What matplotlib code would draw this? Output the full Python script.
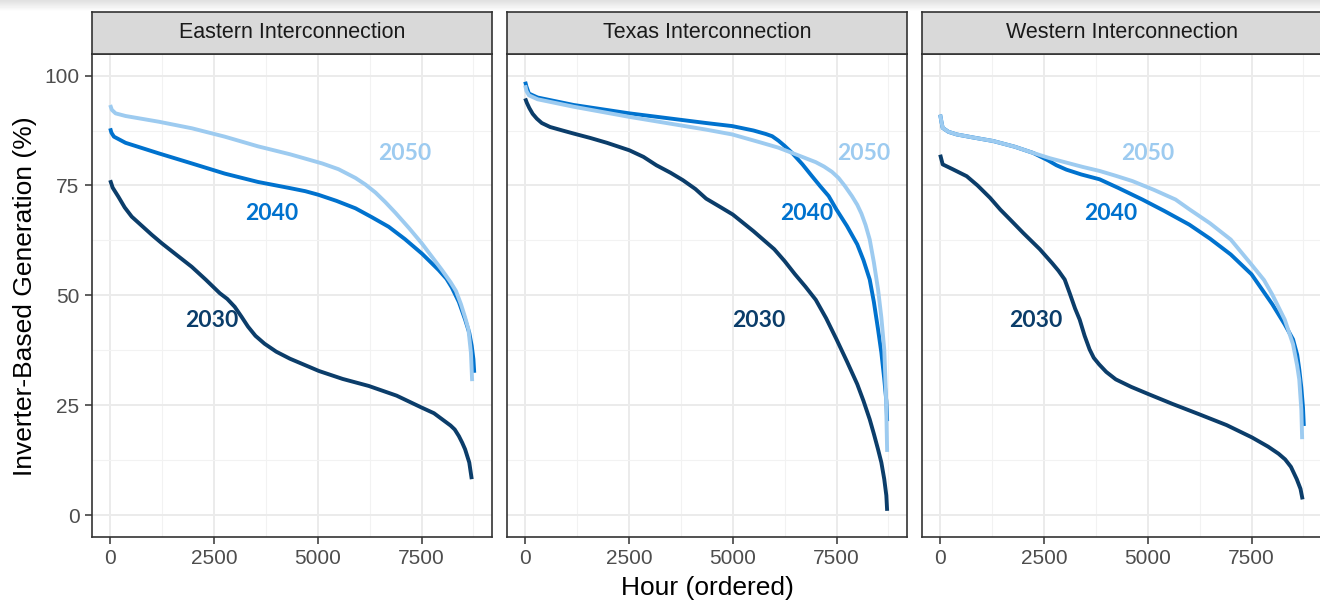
import numpy as np
import matplotlib.pyplot as plt

plt.rcParams['font.family'] = ['Liberation Sans', 'DejaVu Sans']

regions = ['Eastern Interconnection', 'Texas Interconnection', 'Western Interconnection']
years = ['2030', '2040', '2050']
colors = {'2030': '#0B3D6A', '2040': '#0072CE', '2050': '#9DCBF0'}

# ordered hourly share of inverter-based generation (%)
east_2030_h = [0, 60, 200, 350, 520, 1000, 1250, 1600, 1965, 2300, 2640, 2820, 3000, 3160, 3320, 3500, 3720, 4000, 4330, 5030, 5600, 6230, 6900, 7500, 7800, 8000, 8200, 8300, 8400, 8480, 8550, 8600, 8650, 8710]
east_2030_v = [76.2, 74.5, 72.4, 70.0, 67.9, 63.8, 61.8, 59.2, 56.5, 53.6, 50.5, 49.2, 47.4, 45.2, 42.9, 40.8, 39.0, 37.2, 35.6, 32.8, 31.0, 29.4, 27.2, 24.5, 23.2, 21.8, 20.4, 19.5, 18.0, 16.5, 15.0, 13.5, 12.0, 8.2]
east_2040_h = [0, 30, 90, 370, 1170, 1970, 2760, 3560, 4330, 4700, 5010, 5450, 5910, 6300, 6710, 7100, 7510, 7910, 8100, 8230, 8400, 8550, 8650, 8710, 8750, 8770]
east_2040_v = [88.0, 87.0, 86.1, 84.7, 82.3, 80.0, 77.7, 75.8, 74.4, 73.7, 72.9, 71.5, 69.8, 67.8, 65.6, 62.8, 59.5, 55.8, 53.8, 51.8, 48.5, 44.5, 41.5, 38.5, 35.5, 32.4]
east_2050_h = [0, 40, 130, 370, 1170, 1970, 2760, 3560, 4330, 5110, 5500, 5910, 6150, 6390, 6630, 6870, 7200, 7510, 7750, 7990, 8200, 8330, 8450, 8550, 8630, 8690, 8720]
east_2050_v = [93.3, 92.2, 91.4, 90.8, 89.5, 88.0, 86.1, 83.9, 82.1, 80.0, 78.7, 76.7, 75.2, 73.4, 71.2, 68.8, 65.3, 61.8, 58.8, 55.8, 53.0, 51.0, 48.0, 45.0, 42.3, 37.0, 30.5]

texas_2030_h = [0, 40, 100, 180, 280, 400, 600, 900, 1170, 1570, 1970, 2510, 2850, 3160, 3500, 3800, 4100, 4360, 4700, 5000, 5500, 6000, 6250, 6500, 6750, 7000, 7250, 7500, 7750, 8000, 8150, 8300, 8400, 8500, 8580, 8650, 8700, 8720]
texas_2030_v = [94.8, 93.8, 92.6, 91.3, 90.2, 89.2, 88.3, 87.5, 86.8, 85.8, 84.7, 83.0, 81.5, 79.6, 77.9, 76.2, 74.2, 72.0, 70.1, 68.4, 64.6, 60.5, 57.8, 54.8, 52.0, 49.0, 44.8, 40.0, 35.0, 29.8, 26.0, 21.8, 18.5, 15.0, 12.0, 8.2, 4.5, 1.0]
texas_2040_h = [0, 30, 90, 300, 1170, 2510, 4360, 4990, 5500, 5800, 5950, 6100, 6250, 6430, 6680, 6910, 7110, 7310, 7500, 7750, 8000, 8150, 8300, 8400, 8500, 8580, 8650, 8700, 8720]
texas_2040_v = [98.6, 97.5, 95.9, 95.0, 93.3, 91.4, 89.2, 88.5, 87.5, 86.7, 86.2, 85.2, 84.0, 82.4, 79.8, 77.1, 74.8, 72.6, 69.5, 65.8, 61.6, 58.0, 53.6, 48.5, 42.3, 37.0, 31.0, 26.0, 21.4]
texas_2050_h = [0, 30, 90, 300, 1170, 2510, 4360, 4990, 5700, 6100, 6430, 7000, 7200, 7390, 7550, 7700, 7870, 8000, 8100, 8200, 8300, 8400, 8500, 8580, 8650, 8690, 8720]
texas_2050_v = [97.8, 96.5, 95.5, 94.6, 92.9, 90.6, 87.7, 86.6, 84.7, 83.6, 82.4, 80.3, 79.3, 78.1, 76.7, 74.9, 72.6, 70.6, 68.6, 66.0, 62.7, 57.5, 51.4, 45.0, 37.7, 28.0, 14.4]

west_2030_h = [0, 60, 300, 640, 900, 1200, 1450, 1680, 2000, 2400, 2700, 2850, 3000, 3120, 3250, 3360, 3480, 3600, 3700, 3830, 4000, 4230, 4600, 5030, 5600, 6230, 6900, 7510, 7900, 8150, 8310, 8450, 8590, 8680, 8730]
west_2030_v = [82.0, 79.8, 78.7, 77.1, 75.0, 72.2, 69.5, 67.3, 64.2, 60.5, 57.3, 55.6, 53.6, 50.5, 47.0, 44.5, 40.8, 37.7, 35.8, 34.3, 32.6, 30.9, 29.2, 27.5, 25.3, 23.0, 20.5, 17.7, 15.6, 14.0, 12.7, 11.0, 8.2, 6.0, 3.6]
west_2040_h = [0, 30, 60, 200, 400, 800, 1280, 1800, 2240, 2600, 2800, 3040, 3400, 3840, 4300, 4870, 5400, 6000, 6500, 7000, 7500, 8000, 8300, 8500, 8600, 8650, 8700, 8740, 8760]
west_2040_v = [91.1, 89.5, 88.1, 87.2, 86.6, 85.9, 85.1, 83.8, 82.4, 80.7, 79.6, 78.6, 77.5, 76.4, 74.4, 71.8, 69.2, 66.1, 62.9, 59.3, 54.8, 48.0, 43.4, 40.0, 36.5, 33.2, 29.0, 24.5, 20.3]
west_2050_h = [0, 30, 60, 200, 400, 800, 1280, 1800, 2240, 2640, 3040, 3440, 3840, 4230, 4630, 5150, 5670, 6000, 6500, 7000, 7500, 7800, 8000, 8300, 8500, 8600, 8650, 8700, 8720]
west_2050_v = [91.1, 89.5, 88.1, 87.2, 86.6, 85.9, 85.1, 83.8, 82.4, 81.2, 80.2, 79.2, 78.3, 77.2, 76.0, 74.0, 71.8, 69.6, 66.4, 62.7, 57.0, 53.5, 50.2, 44.5, 38.9, 34.0, 30.9, 24.0, 17.3]

# where the year labels sit in each panel (hour, %)
label_h = {'Eastern Interconnection': [2460, 3900, 7090],
           'Texas Interconnection': [5630, 6780, 8150],
           'Western Interconnection': [2300, 4100, 5010]}
label_v = [44.2, 68.6, 82.3]

series = {
    'Eastern Interconnection': [(east_2030_h, east_2030_v), (east_2040_h, east_2040_v), (east_2050_h, east_2050_v)],
    'Texas Interconnection': [(texas_2030_h, texas_2030_v), (texas_2040_h, texas_2040_v), (texas_2050_h, texas_2050_v)],
    'Western Interconnection': [(west_2030_h, west_2030_v), (west_2040_h, west_2040_v), (west_2050_h, west_2050_v)],
}

W, H = 1320, 603
fig = plt.figure(figsize=(W / 100, H / 100), dpi=100)
fig.patch.set_facecolor('white')

# faint grey band along the top edge
top = fig.add_axes([0, 1 - 12 / H, 1, 12 / H])
grad = np.linspace(0.88, 1.0, 12).reshape(-1, 1)
top.imshow(np.repeat(grad, 2, axis=1), cmap='gray', vmin=0, vmax=1, aspect='auto', extent=[0, 1, 0, 1])
top.axis('off')

lefts = [92, 507, 922]
pw = 400
for i, reg in enumerate(regions):
    ax = fig.add_axes([lefts[i] / W, (H - 537) / H, pw / W, 483 / H])
    ax.set_xlim(-438, 9198)
    ax.set_ylim(-4.95, 104.9)
    ax.set_xticks([0, 2500, 5000, 7500])
    ax.set_xticks([1250, 3750, 6250, 8750], minor=True)
    ax.set_yticks([0, 25, 50, 75, 100])
    ax.set_yticks([12.5, 37.5, 62.5, 87.5], minor=True)
    ax.grid(which='major', color='#EBEBEB', lw=1.4)
    ax.grid(which='minor', color='#F2F2F2', lw=0.8)
    ax.set_axisbelow(True)
    for s in ax.spines.values():
        s.set_color('#333333')
        s.set_linewidth(1.2)
    ax.tick_params(which='major', length=5, width=1.1, color='#333333', labelcolor='#4D4D4D', labelsize=15, pad=4)
    ax.tick_params(which='minor', length=0)
    if i > 0:
        ax.tick_params(axis='y', which='major', length=0, labelleft=False)

    for (hh, vv), yr in zip(series[reg], years):
        ax.plot(hh, vv, color=colors[yr], lw=2.8, solid_joinstyle='round', solid_capstyle='butt')
    for yr, lh, lv in zip(years, label_h[reg], label_v):
        ax.text(lh, lv, yr, color=colors[yr], fontsize=16.5, fontweight='bold',
                family=['Lato', 'DejaVu Sans'], ha='center', va='center')

    # facet strip
    st = fig.add_axes([lefts[i] / W, (H - 54) / H, pw / W, 42 / H])
    st.set_facecolor('#D9D9D9')
    st.set_xticks([])
    st.set_yticks([])
    for s in st.spines.values():
        s.set_color('#333333')
        s.set_linewidth(1.2)
    st.text(0.5, 0.5, reg, transform=st.transAxes, ha='center', va='center',
            fontsize=15.5, color='#1A1A1A')

fig.text(707 / W, 1 - 588 / H, 'Hour (ordered)', ha='center', va='center', fontsize=19)
fig.text(25 / W, 1 - 296 / H, 'Inverter-Based Generation (%)', ha='center', va='center',
         rotation=90, fontsize=19)

plt.savefig('out.png', dpi=100)
